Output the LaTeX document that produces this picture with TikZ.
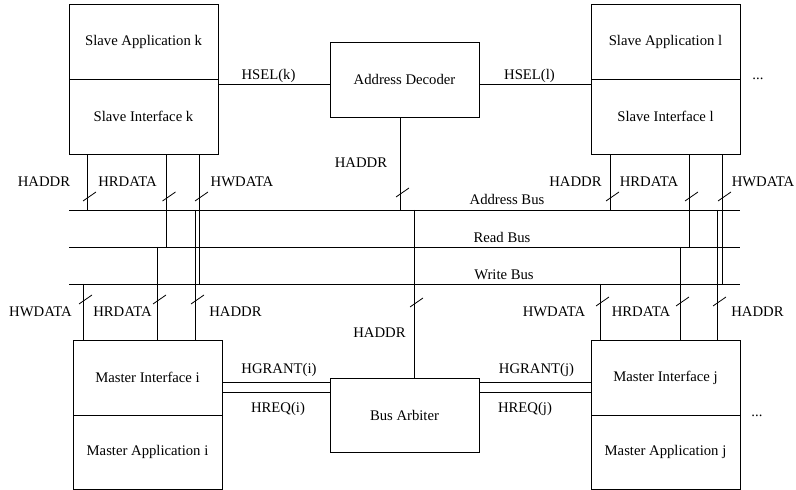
\documentclass[tikz,border=0pt]{standalone}
\usepackage{fontspec}
\setmainfont{Liberation Serif}
\begin{document}
\begin{tikzpicture}[x=1bp,y=-1bp,line width=0.8bp,
  txt/.style={font=\fontsize{14.7bp}{17bp}\selectfont},
  box/.style={txt,draw,minimum width=149bp,minimum height=75bp,inner sep=0pt},
  lbl/.style={txt,inner sep=0pt,anchor=base},
  busslash/.pic={\draw (-4,5) -- (9,-4);}]
\useasboundingbox (0,0) rectangle (796,490);
% slave k
\node[box] (sak) at (143.5,41.5) {Slave Application k};
\node[box] (sik) at (143.5,116.5) {Slave Interface k};
% address decoder
\node[box] (ad) at (404.5,79.5) {Address Decoder};
% slave l
\node[box] (sal) at (665.5,41.5) {Slave Application l};
\node[box] (sil) at (665.5,116.5) {Slave Interface l};
% bus arbiter
\node[box,minimum height=74bp] (arb) at (404.5,415) {Bus Arbiter};
% master i
\node[box] (mii) at (147.5,377.5) {Master Interface i};
\node[box,minimum height=74bp] (mai) at (147.5,452) {Master Application i};
% master j
\node[box] (mij) at (665.5,377.5) {Master Interface j};
\node[box,minimum height=74bp] (maj) at (665.5,452) {Master Application j};
% dots
\node[lbl] (dots1) at (758,80) {...};
\node[lbl] (dots2) at (757,416) {...};
% buses
\coordinate (abL) at (69,210); \coordinate (abR) at (740,210);
\coordinate (rbL) at (69,247); \coordinate (rbR) at (740,247);
\coordinate (wbL) at (69,284); \coordinate (wbR) at (740,284);
\draw (abL) -- (abR);
\draw (rbL) -- (rbR);
\draw (wbL) -- (wbR);
\node[lbl] (abt) at (507,205) {Address Bus};
\node[lbl] (rbt) at (502,243) {Read Bus};
\node[lbl] (wbt) at (504,280) {Write Bus};
% HSEL
\draw (sik.east |- 0,84) -- (ad.west |- 0,84);
\draw (ad.east |- 0,84) -- (sil.west |- 0,84);
\node[lbl] (hselk) at (268.5,80) {HSEL(k)};
\node[lbl] (hsell) at (529.5,80) {HSEL(l)};
% address decoder HADDR
\draw (ad.south -| 400,0) -- (abL -| 400,0);
\pic at (400,192) {busslash};
\node[lbl] (adh) at (361,168) {HADDR};
% arbiter HADDR
\draw (abL -| 414,0) -- (arb.north -| 414,0);
\pic at (414,302) {busslash};
\node[lbl] (arh) at (379.5,337) {HADDR};
% slave k connectors
\draw (sik.south -| 87,0) -- (abL -| 87,0);
\draw (sik.south -| 166.5,0) -- (rbL -| 166.5,0);
\draw (sik.south -| 199,0) -- (wbL -| 199,0);
\pic at (87,196) {busslash};
\pic at (166.5,196) {busslash};
\pic at (199,196) {busslash};
\node[lbl] (skh1) at (44,187) {HADDR};
\node[lbl] (skh2) at (127.5,187) {HRDATA};
\node[lbl] (skh3) at (242,187) {HWDATA};
% slave l connectors
\draw (sil.south -| 610,0) -- (abL -| 610,0);
\draw (sil.south -| 689,0) -- (rbL -| 689,0);
\draw (sil.south -| 722,0) -- (wbL -| 722,0);
\pic at (610,196) {busslash};
\pic at (689,196) {busslash};
\pic at (722,196) {busslash};
\node[lbl] (slh1) at (575.5,187) {HADDR};
\node[lbl] (slh2) at (649,187) {HRDATA};
\node[lbl] (slh3) at (763,187) {HWDATA};
% master i connectors
\draw (wbL -| 83,0) -- (mii.north -| 83,0);
\draw (rbL -| 157,0) -- (mii.north -| 157,0);
\draw (abL -| 195,0) -- (mii.north -| 195,0);
\pic at (83,299) {busslash};
\pic at (157,299) {busslash};
\pic at (195,299) {busslash};
\node[lbl] (mih1) at (40.5,317) {HWDATA};
\node[lbl] (mih2) at (122.5,317) {HRDATA};
\node[lbl] (mih3) at (235.5,317) {HADDR};
% master j connectors
\draw (wbL -| 600,0) -- (mij.north -| 600,0);
\draw (rbL -| 680,0) -- (mij.north -| 680,0);
\draw (abL -| 717,0) -- (mij.north -| 717,0);
\pic at (600,301) {busslash};
\pic at (680,301) {busslash};
\pic at (717,301) {busslash};
\node[lbl] (mjh1) at (554,317) {HWDATA};
\node[lbl] (mjh2) at (641,317) {HRDATA};
\node[lbl] (mjh3) at (757.5,317) {HADDR};
% grant / request
\draw (mii.east |- 0,382) -- (arb.west |- 0,382);
\draw (mii.east |- 0,392) -- (arb.west |- 0,392);
\draw (arb.east |- 0,382) -- (mij.west |- 0,382);
\draw (arb.east |- 0,392) -- (mij.west |- 0,392);
\node[lbl] (hgi) at (279,373) {HGRANT(i)};
\node[lbl] (hri) at (278,412) {HREQ(i)};
\node[lbl] (hgj) at (536.5,373) {HGRANT(j)};
\node[lbl] (hrj) at (525,412) {HREQ(j)};
\end{tikzpicture}
\end{document}
